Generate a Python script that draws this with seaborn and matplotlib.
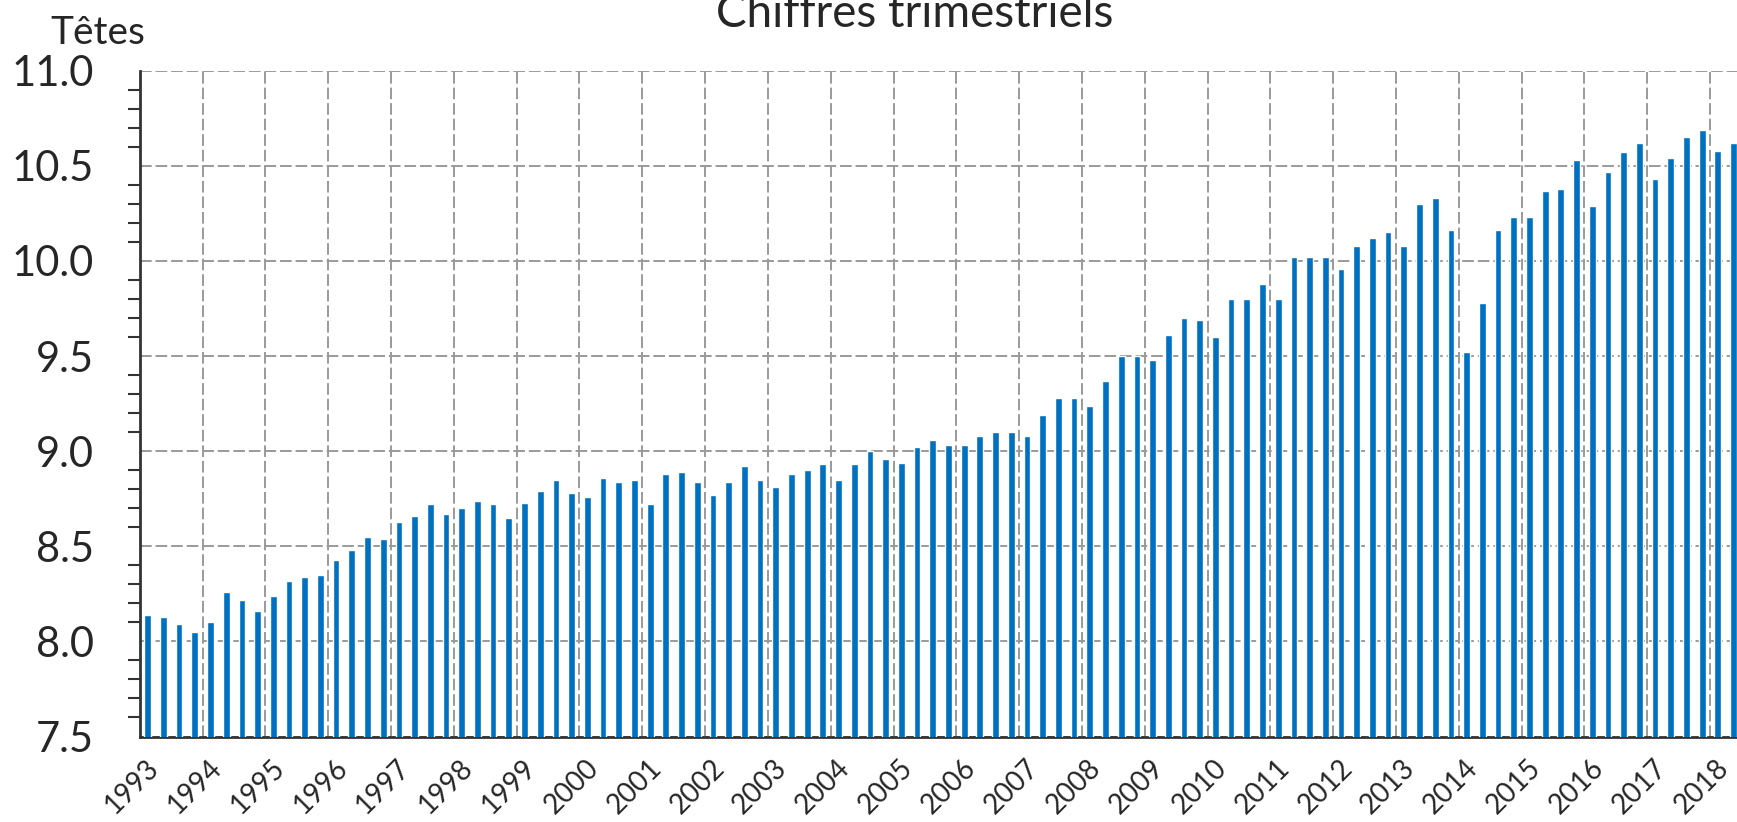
import numpy as np
import pandas as pd
import matplotlib.pyplot as plt
import seaborn as sns
from matplotlib.ticker import MultipleLocator
from matplotlib.transforms import ScaledTranslation

# chiffres trimestriels, 1993 T1 -> 2018 T2
annee_debut = 1993
valeurs = [
    8.14, 8.13, 8.09, 8.05,   # 1993
    8.10, 8.26, 8.22, 8.16,   # 1994
    8.24, 8.32, 8.34, 8.35,   # 1995
    8.43, 8.48, 8.55, 8.54,   # 1996
    8.63, 8.66, 8.72, 8.67,   # 1997
    8.70, 8.74, 8.72, 8.65,   # 1998
    8.73, 8.79, 8.85, 8.78,   # 1999
    8.76, 8.86, 8.84, 8.85,   # 2000
    8.72, 8.88, 8.89, 8.84,   # 2001
    8.77, 8.84, 8.92, 8.85,   # 2002
    8.81, 8.88, 8.90, 8.93,   # 2003
    8.85, 8.93, 9.00, 8.96,   # 2004
    8.94, 9.02, 9.06, 9.03,   # 2005
    9.03, 9.08, 9.10, 9.10,   # 2006
    9.08, 9.19, 9.28, 9.28,   # 2007
    9.24, 9.37, 9.50, 9.50,   # 2008
    9.48, 9.61, 9.70, 9.69,   # 2009
    9.60, 9.80, 9.80, 9.88,   # 2010
    9.80, 10.02, 10.02, 10.02,  # 2011
    9.96, 10.08, 10.12, 10.15,  # 2012
    10.08, 10.30, 10.33, 10.16,  # 2013
    9.52, 9.78, 10.16, 10.23,  # 2014
    10.23, 10.37, 10.38, 10.53,  # 2015
    10.29, 10.47, 10.57, 10.62,  # 2016
    10.43, 10.54, 10.65, 10.69,  # 2017
    10.58, 10.62,               # 2018
]
annees = list(range(1993, 2019))
etiquettes_x = [str(a) for a in annees]
graduations_y = [7.5, 8.0, 8.5, 9.0, 9.5, 10.0, 10.5, 11.0]

df = pd.DataFrame({
    "trimestre": annee_debut + (np.arange(len(valeurs)) + 0.5) / 4,
    "tetes": valeurs,
})

sns.set_style("white")
plt.rcParams['font.family'] = ['Lato', 'DejaVu Sans']

fig = plt.figure(figsize=(17.37, 8.22), dpi=100)
ax = fig.add_axes([0.0805, 0.104, 0.9195, 0.810])

sns.barplot(data=df, x="trimestre", y="tetes", native_scale=True, width=0.43,
            color="#0070c0", saturation=1, errorbar=None, ax=ax, zorder=3)

ax.set_xlim(1993, 2018.43)
ax.set_ylim(7.5, 11.0)
ax.set_xlabel("")
ax.set_ylabel("")

ax.set_xticks(annees)
ax.set_xticklabels(etiquettes_x, rotation=45, ha="right", va="center",
                   rotation_mode="anchor", fontsize=20)
ax.set_yticks(graduations_y)
ax.set_yticklabels([f"{v:.1f}" for v in graduations_y], fontsize=30)
ax.yaxis.set_minor_locator(MultipleLocator(0.1))

ax.set_axisbelow(True)
ax.grid(True, which="major", color="#9a9a9a", linestyle=(0, (6, 2)), linewidth=1.4)

for s in ["top", "right"]:
    ax.spines[s].set_visible(False)
for s in ["left", "bottom"]:
    ax.spines[s].set_color("#333333")
    ax.spines[s].set_linewidth(2)

ax.tick_params(axis="y", which="major", length=12, width=1.6, color="#333333", pad=21)
ax.tick_params(axis="y", which="minor", left=True, length=9, width=1.5, color="#333333")
ax.tick_params(axis="x", which="major", length=7.5, width=1.6, color="#333333", pad=12)

decal = ScaledTranslation(15 / 100, 0, fig.dpi_scale_trans)
for lab in ax.get_xticklabels():
    lab.set_transform(lab.get_transform() + decal)

fig.text(50 / 1737, 1 - 44 / 822, "Têtes", fontsize=28, ha="left", va="baseline")
fig.text(915 / 1737, 1 - 27 / 822, "Chiffres trimestriels", fontsize=33,
         ha="center", va="baseline")

fig.savefig("out.png", dpi=100)
